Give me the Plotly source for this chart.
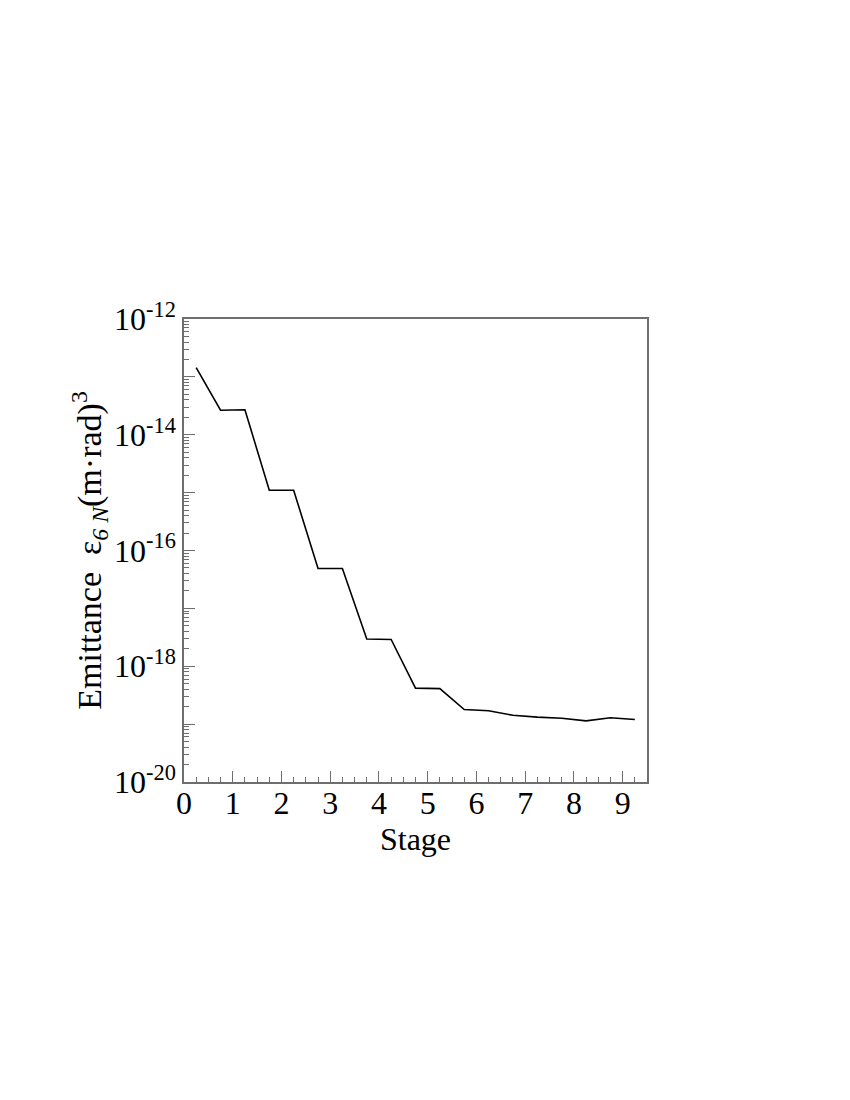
import plotly.graph_objects as go

stage = [0.25, 0.75, 1.25, 1.75, 2.25, 2.75, 3.25, 3.75, 4.25, 4.75,
         5.25, 5.75, 6.25, 6.75, 7.25, 7.75, 8.25, 8.75, 9.25]
emittance = [1.44e-13, 2.65e-14, 2.7e-14, 1.1e-15, 1.1e-15, 4.9e-17, 4.9e-17,
             2.95e-18, 2.9e-18, 4.18e-19, 4.1e-19, 1.79e-19, 1.70e-19,
             1.42e-19, 1.32e-19, 1.26e-19, 1.14e-19, 1.29e-19, 1.2e-19]

x_tickvals = [0, 1, 2, 3, 4, 5, 6, 7, 8, 9]
x_ticktext = ["0", "1", "2", "3", "4", "5", "6", "7", "8", "9"]
decades = list(range(-20, -11))
y_tickvals = [10.0 ** d for d in decades]
y_ticktext = ["10<sup>-%d</sup>" % (-d) if d % 2 == 0 else "" for d in decades]
y_minor = [m * 10.0 ** d for d in decades[:-1] for m in range(2, 10)]
x_minor = [i * 0.25 for i in range(0, 39) if (i * 0.25) % 1 != 0]

fig = go.Figure()
fig.add_trace(go.Scatter(x=stage, y=emittance, mode="lines",
                         line=dict(color="black", width=1.6),
                         showlegend=False, hoverinfo="skip"))

font = dict(family="Liberation Serif, Times New Roman, serif", color="black")

fig.update_layout(
    width=850, height=1100,
    margin=dict(l=176, r=211, t=311, b=326),
    paper_bgcolor="white", plot_bgcolor="white",
    font=dict(**font, size=32),
)
fig.update_xaxes(
    range=[0, 9.5], showgrid=False, zeroline=False,
    showline=True, mirror=True, linecolor="#6e6e6e", linewidth=1.5,
    tickmode="array", tickvals=x_tickvals, ticktext=x_ticktext,
    ticks="inside", ticklen=11, tickcolor="#6e6e6e", tickwidth=1.2,
    tickfont=dict(**font, size=32), ticklabelstandoff=-8,
    minor=dict(tickmode="array", tickvals=x_minor, ticks="inside", ticklen=5,
               tickcolor="#6e6e6e", tickwidth=1, showgrid=False),
    title=dict(text="Stage", font=dict(**font, size=32), standoff=0),
)
fig.update_yaxes(
    type="log", range=[-20, -12], showgrid=False, zeroline=False,
    showline=True, mirror=True, linecolor="#6e6e6e", linewidth=1.5,
    tickmode="array", tickvals=y_tickvals, ticktext=y_ticktext,
    ticks="inside", ticklen=11, tickcolor="#6e6e6e", tickwidth=1.2,
    tickfont=dict(**font, size=32),
    minor=dict(tickmode="array", tickvals=y_minor, ticks="inside", ticklen=5,
               tickcolor="#6e6e6e", tickwidth=1, showgrid=False),
    title=dict(text="Emittance  ε<sub><i>6\u00a0N</i></sub>(m·rad)<sup>3</sup>",
               font=dict(**font, size=34), standoff=2),
)

fig.write_html("out.html")
